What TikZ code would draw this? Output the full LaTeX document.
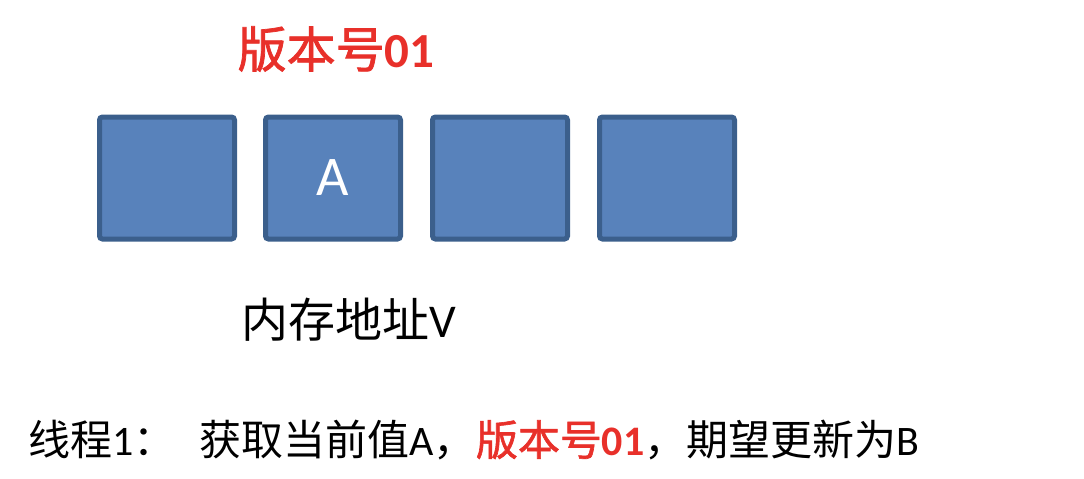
\documentclass[tikz,border=0pt]{standalone}
\usepackage{fontspec}
\setmainfont{Carlito}
\newfontfamily\cjk{Noto Sans CJK SC}[AutoFakeBold=1.5]
\definecolor{cellblue}{HTML}{5882BB}
\definecolor{cellline}{HTML}{3B5F8C}
\definecolor{verred}{HTML}{E8302A}
\begin{document}
\begin{tikzpicture}[x=0.5pt,y=-0.5pt,
    cell/.style={draw=cellline, fill=cellblue, line width=2.5pt, rounded corners=1.5pt,
                 minimum width=67.5pt, minimum height=61pt, inner sep=0pt,
                 text=white, font=\fontsize{28}{30}\selectfont},
    label/.style={inner sep=0pt, font=\fontsize{23.5}{26}\selectfont}]
    \useasboundingbox (0,0) rectangle (1084,478);

    % version tag
    \node[label, text=verred, font=\fontsize{24.5}{27}\selectfont\bfseries] (ver) at (336,49) {\cjk 版本号\rmfamily 01};

    % memory cells
    \node[cell] (c1) at (167,178) {};
    \node[cell] (c2) at (333,178) {A};
    \node[cell] (c3) at (500,178) {};
    \node[cell] (c4) at (667,178) {};

    \node[label] (addr) at (349,320) {\cjk 内存地址\rmfamily V};

    % thread line
    \node[label, anchor=west, font=\fontsize{21}{24}\selectfont] (thread) at (28,440)
        {\cjk 线程\rmfamily 1\cjk ：\hspace{12pt}获取当前值\rmfamily A\cjk ，\textcolor{verred}{\bfseries 版本号\rmfamily 01}\cjk ，期望更新为\rmfamily B};
\end{tikzpicture}
\end{document}
